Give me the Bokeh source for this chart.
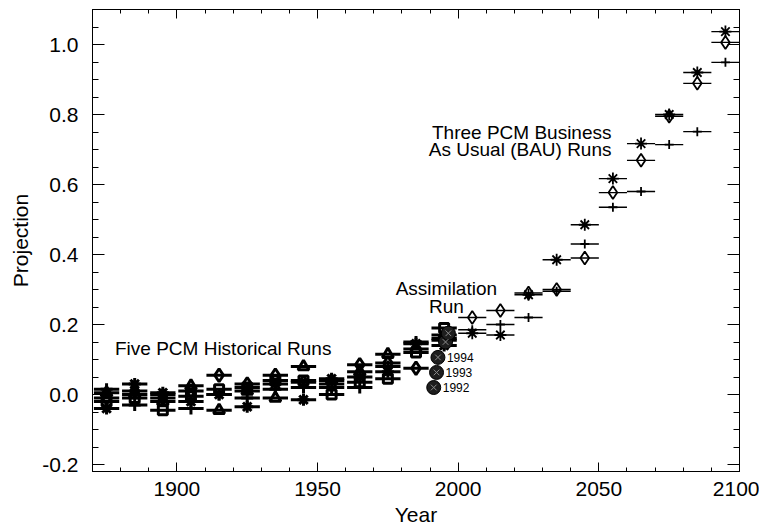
import numpy as np
from bokeh.plotting import figure
from bokeh.models import LinearAxis, FixedTicker, PrintfTickFormatter, Range1d, Label, ColumnDataSource
from bokeh.core.properties import value
from bokeh.embed import file_html
from bokeh.resources import INLINE

FONT = "Liberation Sans"

# ---------------- data ----------------
hist_years = [1875, 1885, 1895, 1905, 1915, 1925, 1935, 1945, 1955, 1965, 1975, 1985, 1995]
hist_run_asterisk = [-0.04, 0.03, 0.005, -0.02, 0.0, -0.035, 0.03, -0.015, 0.045, 0.05, 0.065, 0.145, 0.14]
hist_run_diamond = [-0.01, 0.01, -0.01, 0.01, 0.055, 0.03, 0.055, 0.035, 0.03, 0.085, 0.09, 0.075, 0.16]
hist_run_square = [-0.02, -0.01, -0.045, -0.005, 0.015, 0.02, 0.04, 0.04, 0.0, 0.035, 0.045, 0.12, 0.19]
hist_run_triangle = [0.005, 0.0, -0.02, 0.025, -0.045, 0.01, -0.01, 0.08, 0.04, 0.065, 0.115, 0.13, 0.17]
hist_run_plus = [0.015, -0.03, 0.0, -0.04, 0.0, -0.01, 0.015, 0.02, 0.02, 0.02, 0.08, 0.15, 0.155]

bau_years = [2005, 2015, 2025, 2035, 2045, 2055, 2065, 2075, 2085, 2095]
bau_run_asterisk = [0.175, 0.17, 0.285, 0.385, 0.485, 0.617, 0.717, 0.80, 0.92, 1.037]
bau_run_diamond = [0.22, 0.24, 0.29, 0.30, 0.39, 0.577, 0.669, 0.795, 0.889, 1.006]
bau_run_plus = [0.185, 0.20, 0.22, 0.295, 0.43, 0.535, 0.58, 0.714, 0.751, 0.949]

assim_years = [1991.3, 1992.3, 1992.8, 1995.5, 1996.5]
assim_values = [0.02, 0.063, 0.106, 0.15, 0.175]
assim_labels = ["1992", "1993", "1994"]

x_major_ticks = [1900, 1950, 2000, 2050, 2100]
x_minor_ticks = list(range(1870, 2101, 10))
y_major_ticks = [-0.2, 0.0, 0.2, 0.4, 0.6, 0.8, 1.0]
y_minor_ticks = [round(-0.2 + 0.05 * i, 2) for i in range(27)]

# ---------------- figure ----------------
p = figure(frame_width=647, frame_height=462,
           x_range=Range1d(1870, 2100), y_range=Range1d(-0.22, 1.1),
           output_backend="svg", toolbar_location=None,
           min_border_left=92, min_border_right=20, min_border_top=9, min_border_bottom=50)
p.xgrid.visible = False
p.ygrid.visible = False
p.outline_line_color = "black"
p.background_fill_color = "white"
p.border_fill_color = "white"

xt = FixedTicker(ticks=x_major_ticks, minor_ticks=x_minor_ticks)
yt = FixedTicker(ticks=y_major_ticks, minor_ticks=y_minor_ticks)


def style_axis(ax, major_in, minor_in, ticks, labels=True):
    ax.major_tick_out = 0
    ax.minor_tick_out = 0
    ax.major_tick_in = major_in
    ax.minor_tick_in = minor_in
    ax.axis_line_color = "black"
    ax.major_tick_line_color = "black"
    ax.minor_tick_line_color = "black"
    if labels:
        ax.major_label_text_font = FONT
        ax.major_label_text_font_size = "21px"
        ax.major_label_text_color = "black"
    else:
        ax.major_label_overrides = {t: "" for t in ticks}
        ax.major_label_text_font_size = "1px"
        ax.major_label_standoff = 0


xa = p.xaxis[0]
xa.ticker = xt
style_axis(xa, 9, 4, x_major_ticks)
xa.major_label_standoff = 10
xa.axis_label = "Year"
xa.axis_label_text_font = FONT
xa.axis_label_text_font_size = "21px"
xa.axis_label_text_font_style = "normal"
xa.axis_label_text_color = "black"
xa.axis_label_standoff = 4

ya = p.yaxis[0]
ya.ticker = yt
ya.formatter = PrintfTickFormatter(format="%.1f")
style_axis(ya, 12, 6, y_major_ticks)
ya.major_label_standoff = 14
ya.axis_label = "Projection"
ya.axis_label_text_font = FONT
ya.axis_label_text_font_size = "21px"
ya.axis_label_text_font_style = "normal"
ya.axis_label_text_color = "black"
ya.axis_label_standoff = 7

top = LinearAxis(ticker=FixedTicker(ticks=x_major_ticks, minor_ticks=x_minor_ticks))
style_axis(top, 9, 4, x_major_ticks, labels=False)
p.add_layout(top, "above")
right = LinearAxis(ticker=FixedTicker(ticks=y_major_ticks, minor_ticks=y_minor_ticks))
style_axis(right, 12, 6, y_major_ticks, labels=False)
p.add_layout(right, "right")

# ---------------- historical runs ----------------
hy = np.array(hist_years, dtype=float)
hist_hw = 4.5
hist_runs = [
    (hist_run_asterisk, "asterisk", 12),
    (hist_run_diamond, "diamond", 13),
    (hist_run_square, "square", 9),
    (hist_run_triangle, "triangle", 11),
    (hist_run_plus, "cross", 12),
]
for vals, marker, size in hist_runs:
    src = ColumnDataSource(dict(x0=hy - hist_hw, x1=hy + hist_hw, x=hy, y=vals))
    p.segment(x0="x0", y0="y", x1="x1", y1="y", source=src, line_color="black", line_width=3.2)
    p.scatter(x="x", y="y", source=src, marker=marker, size=size,
              line_color="black", line_width=3, fill_alpha=0)

# ---------------- BAU runs ----------------
by = np.array(bau_years, dtype=float)
bau_hw = 5.0
bau_runs = [
    (bau_run_asterisk, "asterisk", 12),
    (bau_run_diamond, "diamond", 13),
    (bau_run_plus, "cross", 9),
]
for vals, marker, size in bau_runs:
    src = ColumnDataSource(dict(x0=by - bau_hw, x1=by + bau_hw, x=by, y=vals))
    p.segment(x0="x0", y0="y", x1="x1", y1="y", source=src, line_color="black", line_width=1.3)
    p.scatter(x="x", y="y", source=src, marker=marker, size=size,
              line_color="black", line_width=1.8, fill_alpha=0)

# ---------------- assimilation run ----------------
asrc = ColumnDataSource(dict(x=assim_years, y=assim_values))
p.scatter(x="x", y="y", source=asrc, marker="circle", size=14,
          fill_color="#1e1e1e", line_color="black", line_width=1)
p.scatter(x="x", y="y", source=asrc, marker="x", size=8,
          line_color="#8a8a8a", line_width=1)
lsrc = ColumnDataSource(dict(x=assim_years[:3], y=assim_values[:3], t=assim_labels))
p.text(x="x", y="y", text="t", source=lsrc, x_offset=9, text_baseline="middle",
       text_font=value(FONT), text_font_size="12px", text_color="black")

# ---------------- annotations ----------------
def lab(x, y, text, align="left"):
    p.add_layout(Label(x=x, y=y, text=text, text_font=FONT, text_font_size="19px",
                       text_align=align, text_baseline="middle", text_color="black"))

lab(1878, 0.131, "Five PCM Historical Runs")
lab(1995.8, 0.303, "Assimilation", "center")
lab(1995.8, 0.251, "Run", "center")
lab(2054.5, 0.749, "Three PCM Business", "right")
lab(2054.5, 0.700, "As Usual (BAU) Runs", "right")

open("out.html", "w").write(file_html(p, INLINE))
